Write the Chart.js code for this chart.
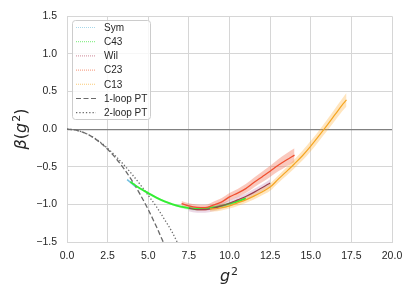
<!DOCTYPE html>
<html>
<head>
<meta charset="utf-8">
<script src="https://cdn.jsdelivr.net/npm/chart.js@4.4.1/dist/chart.umd.min.js"></script>
<style>
  html, body { margin: 0; padding: 0; background: #fff; }
  #wrap { width: 415px; height: 297px; }
</style>
</head>
<body>
<div id="wrap"><canvas id="beta" width="415" height="297"></canvas></div>
<script>
// beta(g^2) from several discretisations, compared with perturbation theory
const xTicks = [0, 2.5, 5, 7.5, 10, 12.5, 15, 17.5, 20];
const yTicks = [-1.5, -1, -0.5, 0, 0.5, 1, 1.5];

const symG2 = [3.7, 3.95, 4.2];
const symBeta = [-0.67, -0.715, -0.76];
const symErr = [0.015, 0.015, 0.015];

const c43G2 = [3.9, 4.5, 5, 5.5, 6, 6.5, 7, 7.5, 8, 8.5, 9, 9.5, 10, 10.5, 11];
const c43Beta = [-0.70, -0.79, -0.85, -0.91, -0.96, -1.0, -1.03, -1.05, -1.06, -1.055, -1.04, -1.02, -0.99, -0.96, -0.92];
const c43Err = [0.015, 0.015, 0.015, 0.015, 0.015, 0.015, 0.018, 0.02, 0.02, 0.02, 0.02, 0.02, 0.02, 0.02, 0.02];

const wilG2 = [7.5, 8, 8.5, 9, 9.5, 10, 10.5, 11, 11.5, 12, 12.5];
const wilBeta = [-1.05, -1.07, -1.07, -1.05, -1.02, -0.985, -0.94, -0.895, -0.84, -0.78, -0.715];
const wilErr = [0.04, 0.04, 0.04, 0.04, 0.04, 0.04, 0.04, 0.04, 0.045, 0.045, 0.05];

const c23G2 = [7.05, 7.5, 8, 8.5, 9, 9.5, 10, 10.5, 11, 11.5, 12, 12.5, 13, 13.5, 14];
const c23Beta = [-0.99, -1.02, -1.04, -1.045, -1.01, -0.97, -0.9, -0.85, -0.79, -0.71, -0.635, -0.56, -0.48, -0.41, -0.345];
const c23Err = [0.035, 0.035, 0.04, 0.04, 0.045, 0.05, 0.05, 0.055, 0.06, 0.065, 0.07, 0.075, 0.08, 0.085, 0.09];

const c13G2 = [8.8, 9, 9.5, 10, 10.5, 11, 11.5, 12, 12.5, 13, 13.5, 14, 14.5, 15, 15.5, 16, 16.5, 17, 17.2];
const c13Beta = [-1.06, -1.06, -1.045, -1.02, -0.98, -0.94, -0.89, -0.835, -0.77, -0.665, -0.565, -0.46, -0.35, -0.225, -0.09, 0.05, 0.195, 0.34, 0.39];
const c13Err = [0.035, 0.035, 0.035, 0.035, 0.04, 0.04, 0.045, 0.045, 0.05, 0.05, 0.055, 0.06, 0.065, 0.07, 0.07, 0.075, 0.08, 0.085, 0.09];

const pt1G2 = [0, 0.5, 1, 1.5, 2, 2.5, 3, 3.5, 4, 4.5, 5, 5.5, 6];
const pt1Beta = [0, -0.011, -0.043, -0.096, -0.171, -0.267, -0.385, -0.524, -0.685, -0.867, -1.07, -1.295, -1.54];

const pt2G2 = [0, 0.5, 1, 1.5, 2, 2.5, 3, 3.5, 4, 4.5, 5, 5.5, 6, 6.5, 7];
const pt2Beta = [0, -0.011, -0.042, -0.094, -0.165, -0.255, -0.36, -0.475, -0.6, -0.735, -0.88, -1.03, -1.2, -1.38, -1.6];

Chart.defaults.font.family = 'Liberation Sans';
Chart.defaults.color = '#262626';

function pts(xs, ys) {
  return xs.map((x, i) => ({ x: x, y: ys[i] }));
}
function shift(ys, err, sign) {
  return ys.map((y, i) => y + sign * err[i]);
}

function line(label, xs, ys, color, width, order, legendColor, legendDash) {
  return {
    label: label, data: pts(xs, ys), borderColor: color, borderWidth: width,
    pointRadius: 0, fill: false, cubicInterpolationMode: 'monotone', order: order,
    legendColor: legendColor, legendDash: legendDash
  };
}
function band(xs, ys, err, color, order) {
  return [
    { data: pts(xs, shift(ys, err, 1)), borderWidth: 0, pointRadius: 0, fill: false,
      cubicInterpolationMode: 'monotone', order: order },
    { data: pts(xs, shift(ys, err, -1)), borderWidth: 0, pointRadius: 0, fill: '-1',
      backgroundColor: color, cubicInterpolationMode: 'monotone', order: order }
  ];
}

const pt1 = line('1-loop PT', pt1G2, pt1Beta, '#6a6a6a', 1.3, 20, '#6a6a6a', [5, 2.5]);
pt1.borderDash = [5, 2.5];
const pt2 = line('2-loop PT', pt2G2, pt2Beta, '#6a6a6a', 1.3, 20, '#6a6a6a', [1.3, 2]);
pt2.borderDash = [1.3, 2];

const datasets = [
  line('Sym', symG2, symBeta, '#74c0e0', 1.5, 5, '#a8d8ea', [1, 1]),
  line('C43', c43G2, c43Beta, '#33ee33', 1.8, 4, '#8ef08e', [1, 1]),
  line('Wil', wilG2, wilBeta, '#9b3f50', 1.2, 3, '#d8a0ac', [1, 1]),
  line('C23', c23G2, c23Beta, '#f05030', 1.3, 2, '#f7a890', [1, 1]),
  line('C13', c13G2, c13Beta, '#f5a623', 1.2, 1, '#fbd38d', [1, 1]),
  pt1, pt2
].concat(
  band(symG2, symBeta, symErr, 'rgba(135,206,235,0.35)', 35),
  band(c43G2, c43Beta, c43Err, 'rgba(0,230,0,0.22)', 34),
  band(wilG2, wilBeta, wilErr, 'rgba(180,100,160,0.25)', 33),
  band(c23G2, c23Beta, c23Err, 'rgba(240,100,70,0.35)', 32),
  band(c13G2, c13Beta, c13Err, 'rgba(255,170,40,0.3)', 31)
);

// legend box in the upper-left corner of the axes
const boxLegend = {
  id: 'boxLegend',
  afterDraw(chart) {
    const ctx = chart.ctx;
    const items = chart.data.datasets.filter(d => d.legendColor);
    ctx.save();
    ctx.beginPath();
    ctx.roundRect(72.5, 20.5, 78, 99, 3);
    ctx.fillStyle = 'rgba(255,255,255,0.8)';
    ctx.fill();
    ctx.strokeStyle = '#cccccc';
    ctx.lineWidth = 1;
    ctx.stroke();
    ctx.font = '10px "Liberation Sans"';
    ctx.textBaseline = 'middle';
    items.forEach((d, i) => {
      const y = 27.5 + i * 14.2;
      ctx.beginPath();
      ctx.setLineDash(d.legendDash);
      ctx.strokeStyle = d.legendColor;
      ctx.lineWidth = 1.2;
      ctx.moveTo(76, y);
      ctx.lineTo(96, y);
      ctx.stroke();
      ctx.setLineDash([]);
      ctx.fillStyle = '#262626';
      ctx.fillText(d.label, 104, y + 0.5);
    });
    ctx.restore();
  }
};

// math-like text: italic symbols, upright brackets, raised superscript
function drawMath(ctx, parts, cx, cy) {
  const fontOf = p => (p.sup ? '11px "DejaVu Sans"' : (p.it ? 'italic ' : '') + '16px "DejaVu Sans"');
  let w = 0;
  parts.forEach(p => { ctx.font = fontOf(p); w += ctx.measureText(p.t).width + (p.sup ? 1 : 0); });
  let x = cx - w / 2;
  ctx.textAlign = 'left';
  ctx.textBaseline = 'alphabetic';
  parts.forEach(p => {
    ctx.font = fontOf(p);
    ctx.fillText(p.t, x + (p.sup ? 1 : 0), p.sup ? cy - 1 : cy + 5);
    x += ctx.measureText(p.t).width + (p.sup ? 1 : 0);
  });
}

const axisTitles = {
  id: 'axisTitles',
  afterDraw(chart) {
    const ctx = chart.ctx;
    ctx.save();
    ctx.fillStyle = '#262626';
    drawMath(ctx, [{ t: 'g', it: true }, { t: '2', sup: true }], 229, 276);
    ctx.translate(21, 129);
    ctx.rotate(-Math.PI / 2);
    drawMath(ctx, [{ t: '\u03b2', it: true }, { t: '(' }, { t: 'g', it: true }, { t: '2', sup: true }, { t: ')' }], 0, 0);
    ctx.restore();
  }
};

new Chart(document.getElementById('beta'), {
  type: 'line',
  data: { datasets: datasets },
  options: {
    responsive: false,
    animation: false,
    devicePixelRatio: 1,
    layout: { padding: { left: 0, right: 23, top: 15, bottom: 0 } },
    plugins: { legend: { display: false }, tooltip: { enabled: false } },
    scales: {
      x: {
        type: 'linear', min: 0, max: 20,
        afterBuildTicks: s => { s.ticks = xTicks.map(v => ({ value: v })); },
        afterFit: s => { s.height = 55; },
        ticks: { callback: v => v.toFixed(1), font: { size: 10.5 }, padding: 8, maxRotation: 0 },
        grid: { color: '#d6d6d6', drawTicks: false },
        border: { color: '#d6d6d6' }
      },
      y: {
        type: 'linear', min: -1.5, max: 1.5,
        afterBuildTicks: s => { s.ticks = yTicks.map(v => ({ value: v })); },
        afterFit: s => { s.width = 67; },
        ticks: { callback: v => v.toFixed(1).replace('-', '\u2212'), font: { size: 10.5 }, padding: 10 },
        grid: {
          color: c => (c.tick && c.tick.value === 0 ? '#808080' : '#d6d6d6'),
          lineWidth: c => (c.tick && c.tick.value === 0 ? 1.2 : 1),
          drawTicks: false
        },
        border: { color: '#d6d6d6' }
      }
    }
  },
  plugins: [boxLegend, axisTitles]
});
</script>
</body>
</html>
